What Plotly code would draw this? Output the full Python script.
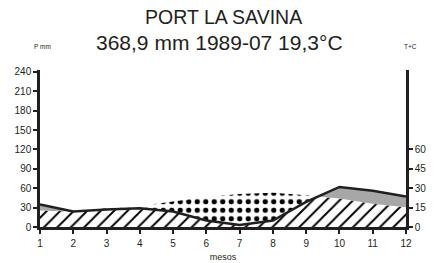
import plotly.graph_objects as go

months = [1, 2, 3, 4, 5, 6, 7, 8, 9, 10, 11, 12]
precip_mm = [35, 24, 27, 29, 24, 10, 3, 10, 39, 62, 56, 47]
temp_c = [12.8, 12.2, 14.6, 16.3, 19.8, 23.2, 25.5, 26.5, 24.5, 22.0, 18.0, 15.2]
left_ticks = [0, 30, 60, 90, 120, 150, 180, 210, 240]
right_ticks = [0, 15, 30, 45, 60]
title_1 = "PORT LA SAVINA"
title_2 = "368,9 mm 1989-07 19,3°C"

temp_scaled = [2 * t for t in temp_c]  # 1 °C = 2 mm


def augment(x, a, b):
    xs, A, B = [], [], []
    for i in range(len(x)):
        xs.append(x[i]); A.append(a[i]); B.append(b[i])
        if i < len(x) - 1:
            d0 = a[i] - b[i]
            d1 = a[i + 1] - b[i + 1]
            if d0 * d1 < 0:
                t = d0 / (d0 - d1)
                xc = x[i] + t * (x[i + 1] - x[i])
                yc = a[i] + t * (a[i + 1] - a[i])
                xs.append(xc); A.append(yc); B.append(yc)
    return xs, A, B


xs, P, T2 = augment(months, precip_mm, temp_scaled)
low = [min(p, t) for p, t in zip(P, T2)]

INK = "#231f20"
fig = go.Figure()
nl = dict(width=0)
fig.add_trace(go.Scatter(x=xs, y=[0] * len(xs), mode="lines", line=nl, hoverinfo="skip"))
fig.add_trace(go.Scatter(x=xs, y=low, mode="lines", line=nl, fill="tonexty",
                         fillcolor="white",
                         fillpattern=dict(shape="/", fgcolor="black", bgcolor="white",
                                          fgopacity=1, size=9.5, solidity=0.2),
                         hoverinfo="skip"))
fig.add_trace(go.Scatter(x=xs, y=low, mode="lines", line=nl, hoverinfo="skip"))
fig.add_trace(go.Scatter(x=xs, y=P, mode="lines", line=nl, fill="tonexty",
                         fillcolor="#a7a7a7", hoverinfo="skip"))
fig.add_trace(go.Scatter(x=xs, y=low, mode="lines", line=nl, hoverinfo="skip"))
fig.add_trace(go.Scatter(x=xs, y=T2, mode="lines", line=nl, fill="tonexty",
                         fillcolor="white",
                         fillpattern=dict(shape=".", fgcolor="black", bgcolor="white",
                                          fgopacity=1, size=8.5, solidity=0.3),
                         hoverinfo="skip"))
fig.add_trace(go.Scatter(x=months, y=precip_mm, mode="lines",
                         line=dict(color=INK, width=2.5)))
# dummy trace for right axis
fig.add_trace(go.Scatter(x=[1], y=[0], yaxis="y2", mode="markers",
                         marker=dict(opacity=0), hoverinfo="skip"))

font = dict(family="Liberation Sans, Arial, sans-serif", color=INK)
fig.update_layout(
    width=436, height=263,
    margin=dict(l=40, r=30, t=70, b=36, autoexpand=False),
    paper_bgcolor="white", plot_bgcolor="white",
    showlegend=False,
    font=dict(family="Liberation Sans, Arial, sans-serif", size=10, color=INK),
    xaxis=dict(range=[1, 12], tickvals=months, ticktext=[str(m) for m in months],
               automargin=False,
               showgrid=False, zeroline=False, showline=True, linecolor=INK, linewidth=2.5,
               ticks="outside", ticklen=4, tickwidth=2, tickcolor=INK, ticklabelstandoff=1,
               tickfont=dict(size=10), title=dict(text="mesos", font=dict(size=9), standoff=6)),
    yaxis=dict(range=[0, 243], tickvals=left_ticks, showgrid=False, zeroline=False,
               automargin=False,
               showline=True, linecolor=INK, linewidth=2.5,
               ticks="outside", ticklen=4, tickwidth=2, tickcolor=INK, tickfont=dict(size=10)),
    yaxis2=dict(range=[0, 121.5], tickvals=right_ticks, overlaying="y", side="right",
                automargin=False,
                anchor="x", showgrid=False, zeroline=False, showline=True, linecolor=INK,
                linewidth=2.5, ticks="outside", ticklen=4, tickwidth=2, tickcolor=INK,
                tickfont=dict(size=10)),
    annotations=[
        dict(text=title_1, x=0.5, y=(227 - 17.5) / 157, xref="paper", yref="paper",
             showarrow=False, yanchor="middle", font=dict(size=19.5, **font)),
        dict(text=title_2, x=0.49, y=(227 - 42) / 157, xref="paper", yref="paper",
             showarrow=False, yanchor="middle", font=dict(size=21, **font)),
        dict(text="P mm", x=(42 - 40) / 366, y=(227 - 46) / 157, xref="paper", yref="paper",
             showarrow=False, yanchor="middle", xanchor="center", font=dict(size=6.5, **font)),
        dict(text="T+C", x=(410 - 40) / 366, y=(227 - 46) / 157, xref="paper", yref="paper",
             showarrow=False, yanchor="middle", xanchor="center", font=dict(size=6.5, **font)),
    ],
)
fig.write_html("out.html", config={"displayModeBar": False},
               post_script="document.body.style.margin='0';")
